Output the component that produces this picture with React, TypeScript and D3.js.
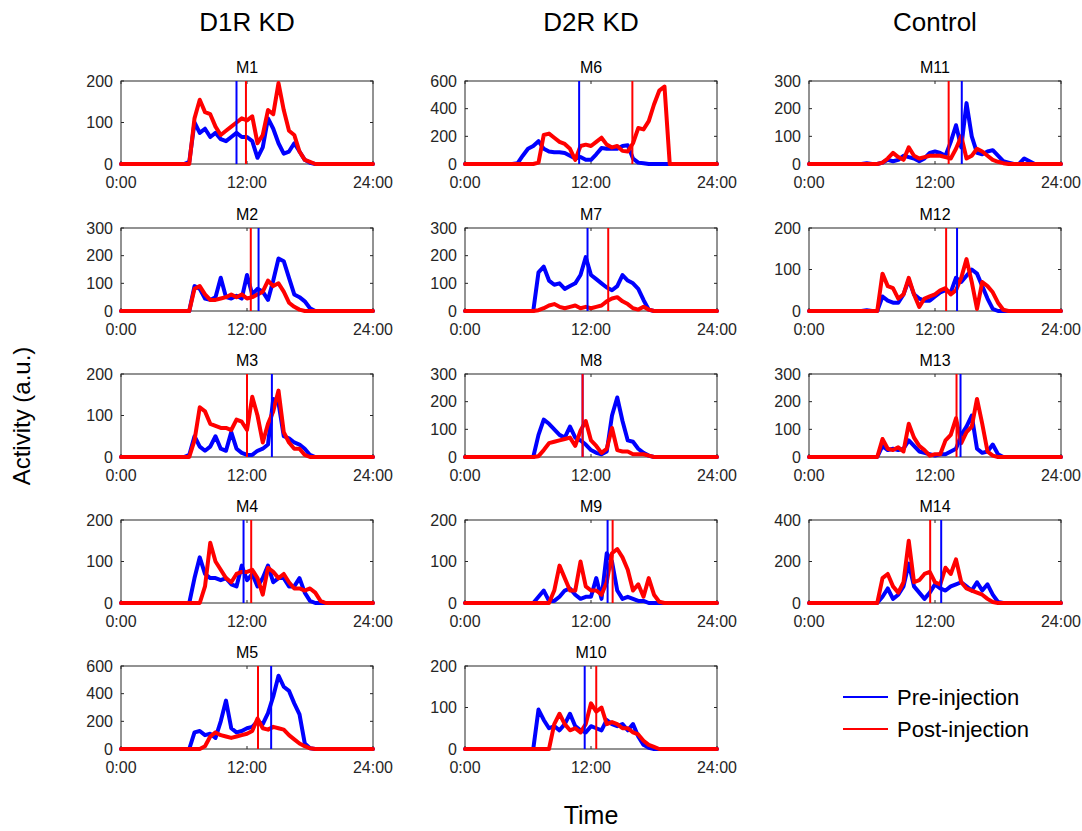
import { useEffect, useRef } from 'react';
import * as d3 from 'd3';

// Time grid, half-hour bins over the day
const HOURS = d3.range(0, 24.01, 0.5);
const X_TICKS = [0, 12, 24];
const X_TICK_LABELS = ['0:00', '12:00', '24:00'];

const GROUPS = ['D1R KD', 'D2R KD', 'Control'];
const MICE = ['M1', 'M2', 'M3', 'M4', 'M5', 'M6', 'M7', 'M8', 'M9', 'M10', 'M11', 'M12', 'M13', 'M14'];
const MOUSE_GROUP = [0, 0, 0, 0, 0, 1, 1, 1, 1, 1, 2, 2, 2, 2];
const MOUSE_ROW = [0, 1, 2, 3, 4, 0, 1, 2, 3, 4, 0, 1, 2, 3];
const Y_MAX = [200, 300, 200, 200, 600, 600, 300, 300, 200, 200, 300, 200, 300, 400];
const Y_STEP = [100, 100, 100, 100, 200, 200, 100, 100, 100, 100, 100, 100, 100, 200];

// activity centre of mass (hours)
const PRE_CENTER = [11.0, 13.1, 14.37, 11.67, 14.3, 10.87, 11.67, 11.2, 13.58, 11.4, 14.55, 14.1, 14.43, 12.59];
const POST_CENTER = [11.9, 12.36, 12.0, 12.4, 13.05, 15.94, 13.64, 11.2, 14.06, 12.5, 13.3, 13.06, 14.05, 11.54];

// each row of 8 = 4 hours
const m1Pre = [
  0, 0, 0, 0, 0, 0, 0, 0,
  0, 0, 0, 0, 0, 5, 100, 75,
  85, 65, 75, 60, 55, 65, 75, 65,
  65, 55, 15, 40, 110, 85, 50, 25,
  30, 50, 30, 10, 3, 0, 0, 0,
  0, 0, 0, 0, 0, 0, 0, 0,
  0];
const m1Post = [
  0, 0, 0, 0, 0, 0, 0, 0,
  0, 0, 0, 0, 0, 0, 110, 155,
  125, 120, 90, 70, 80, 90, 100, 110,
  105, 115, 50, 70, 130, 120, 195, 130,
  80, 70, 30, 10, 5, 0, 0, 0,
  0, 0, 0, 0, 0, 0, 0, 0,
  0];
const m2Pre = [
  0, 0, 0, 0, 0, 0, 0, 0,
  0, 0, 0, 0, 0, 0, 90, 80,
  45, 40, 50, 120, 50, 45, 55, 45,
  130, 60, 80, 70, 40, 110, 190, 180,
  120, 60, 50, 35, 10, 0, 0, 0,
  0, 0, 0, 0, 0, 0, 0, 0,
  0];
const m2Post = [
  0, 0, 0, 0, 0, 0, 0, 0,
  0, 0, 0, 0, 0, 0, 80, 90,
  60, 40, 40, 45, 50, 60, 50, 60,
  45, 50, 60, 70, 110, 90, 100, 70,
  30, 15, 5, 0, 0, 0, 0, 0,
  0, 0, 0, 0, 0, 0, 0, 0,
  0];
const m3Pre = [
  0, 0, 0, 0, 0, 0, 0, 0,
  0, 0, 0, 0, 0, 5, 50, 25,
  15, 25, 50, 20, 15, 60, 20, 10,
  5, 5, 15, 20, 30, 140, 130, 50,
  45, 35, 30, 20, 5, 0, 0, 0,
  0, 0, 0, 0, 0, 0, 0, 0,
  0];
const m3Post = [
  0, 0, 0, 0, 0, 0, 0, 0,
  0, 0, 0, 0, 0, 0, 40, 120,
  110, 80, 75, 70, 70, 65, 90, 85,
  65, 145, 100, 35, 80, 110, 160, 60,
  35, 20, 20, 5, 0, 0, 0, 0,
  0, 0, 0, 0, 0, 0, 0, 0,
  0];
const m4Pre = [
  0, 0, 0, 0, 0, 0, 0, 0,
  0, 0, 0, 0, 0, 0, 60, 110,
  70, 60, 60, 55, 60, 45, 40, 90,
  55, 70, 40, 60, 90, 50, 60, 60,
  40, 40, 60, 25, 5, 0, 0, 0,
  0, 0, 0, 0, 0, 0, 0, 0,
  0];
const m4Post = [
  0, 0, 0, 0, 0, 0, 0, 0,
  0, 0, 0, 0, 0, 0, 0, 0,
  40, 145, 100, 80, 60, 50, 70, 75,
  75, 80, 60, 20, 85, 75, 60, 70,
  50, 35, 35, 30, 35, 25, 5, 0,
  0, 0, 0, 0, 0, 0, 0, 0,
  0];
const m5Pre = [
  0, 0, 0, 0, 0, 0, 0, 0,
  0, 0, 0, 0, 0, 0, 120, 130,
  100, 110, 80, 200, 350, 150, 120, 130,
  150, 160, 200, 180, 260, 380, 530, 450,
  420, 330, 250, 40, 5, 0, 0, 0,
  0, 0, 0, 0, 0, 0, 0, 0,
  0];
const m5Post = [
  0, 0, 0, 0, 0, 0, 0, 0,
  0, 0, 0, 0, 0, 0, 0, 0,
  20, 90, 120, 100, 90, 80, 90, 100,
  110, 130, 220, 150, 140, 160, 150, 140,
  100, 70, 40, 20, 5, 0, 0, 0,
  0, 0, 0, 0, 0, 0, 0, 0,
  0];
const m6Pre = [
  0, 0, 0, 0, 0, 0, 0, 0,
  0, 0, 5, 60, 110, 130, 165, 110,
  90, 85, 85, 80, 60, 40, 50, 30,
  30, 70, 115, 110, 110, 110, 130, 135,
  40, 10, 5, 0, 0, 0, 0, 0,
  0, 0, 0, 0, 0, 0, 0, 0,
  0];
const m6Post = [
  0, 0, 0, 0, 0, 0, 0, 0,
  0, 0, 0, 0, 0, 0, 10, 210,
  220, 190, 160, 145, 110, 30, 130, 140,
  130, 160, 190, 140, 120, 130, 95, 90,
  150, 260, 250, 310, 430, 530, 560, 0,
  0, 0, 0, 0, 0, 0, 0, 0,
  0];
const m7Pre = [
  0, 0, 0, 0, 0, 0, 0, 0,
  0, 0, 0, 0, 0, 0, 140, 160,
  110, 95, 100, 80, 90, 100, 130, 195,
  130, 115, 100, 85, 75, 90, 130, 110,
  100, 80, 40, 5, 0, 0, 0, 0,
  0, 0, 0, 0, 0, 0, 0, 0,
  0];
const m7Post = [
  0, 0, 0, 0, 0, 0, 0, 0,
  0, 0, 0, 0, 0, 0, 3, 10,
  20, 25, 15, 10, 15, 20, 10, 15,
  10, 15, 20, 35, 45, 50, 35, 25,
  10, 5, 15, 5, 0, 0, 0, 0,
  0, 0, 0, 0, 0, 0, 0, 0,
  0];
const m8Pre = [
  0, 0, 0, 0, 0, 0, 0, 0,
  0, 0, 0, 0, 0, 0, 80, 135,
  120, 100, 80, 70, 110, 70, 60, 45,
  25, 15, 10, 20, 150, 215, 130, 60,
  55, 30, 15, 5, 0, 0, 0, 0,
  0, 0, 0, 0, 0, 0, 0, 0,
  0];
const m8Post = [
  0, 0, 0, 0, 0, 0, 0, 0,
  0, 0, 0, 0, 0, 0, 3, 25,
  50, 55, 60, 65, 70, 40, 95, 130,
  60, 40, 15, 30, 105, 25, 20, 20,
  10, 10, 10, 5, 0, 0, 0, 0,
  0, 0, 0, 0, 0, 0, 0, 0,
  0];
const m9Pre = [
  0, 0, 0, 0, 0, 0, 0, 0,
  0, 0, 0, 0, 0, 0, 15, 30,
  5, 5, 15, 30, 35, 20, 10, 15,
  15, 60, 10, 120, 100, 30, 10, 15,
  10, 5, 5, 0, 0, 0, 0, 0,
  0, 0, 0, 0, 0, 0, 0, 0,
  0];
const m9Post = [
  0, 0, 0, 0, 0, 0, 0, 0,
  0, 0, 0, 0, 0, 0, 0, 0,
  0, 30, 90, 60, 30, 30, 100, 40,
  30, 30, 20, 50, 120, 130, 110, 80,
  30, 45, 15, 60, 20, 3, 0, 0,
  0, 0, 0, 0, 0, 0, 0, 0,
  0];
const m10Pre = [
  0, 0, 0, 0, 0, 0, 0, 0,
  0, 0, 0, 0, 0, 0, 95, 70,
  50, 55, 45, 60, 85, 55, 45, 40,
  55, 50, 45, 70, 60, 55, 60, 45,
  60, 30, 10, 3, 0, 0, 0, 0,
  0, 0, 0, 0, 0, 0, 0, 0,
  0];
const m10Post = [
  0, 0, 0, 0, 0, 0, 0, 0,
  0, 0, 0, 0, 0, 0, 0, 0,
  0, 60, 85, 60, 45, 50, 40, 60,
  110, 90, 100, 60, 65, 60, 50, 50,
  40, 35, 20, 10, 5, 0, 0, 0,
  0, 0, 0, 0, 0, 0, 0, 0,
  0];
const m11Pre = [
  0, 0, 0, 0, 0, 0, 0, 0,
  0, 0, 0, 3, 0, 0, 5, 15,
  10, 15, 30, 25, 20, 10, 20, 40,
  45, 40, 30, 80, 140, 60, 220, 100,
  40, 35, 45, 50, 30, 10, 5, 0,
  0, 20, 10, 0, 0, 0, 0, 0,
  0];
const m11Post = [
  0, 0, 0, 0, 0, 0, 0, 0,
  0, 0, 0, 0, 0, 0, 5, 20,
  40, 25, 15, 60, 30, 20, 25, 30,
  30, 30, 25, 20, 55, 100, 20, 30,
  55, 45, 30, 15, 8, 3, 0, 0,
  0, 0, 0, 0, 0, 0, 0, 0,
  0];
const m12Pre = [
  0, 0, 0, 0, 0, 0, 0, 0,
  0, 0, 0, 2, 0, 0, 35, 25,
  20, 20, 40, 75, 40, 30, 25, 25,
  35, 45, 50, 45, 80, 70, 85, 100,
  90, 60, 30, 5, 0, 0, 0, 0,
  0, 0, 0, 0, 0, 0, 0, 0,
  0];
const m12Post = [
  0, 0, 0, 0, 0, 0, 0, 0,
  0, 0, 0, 0, 0, 0, 90, 60,
  55, 30, 40, 80, 40, 10, 30, 35,
  40, 50, 55, 40, 50, 80, 125, 70,
  5, 70, 60, 45, 20, 3, 0, 0,
  0, 0, 0, 0, 0, 0, 0, 0,
  0];
const m13Pre = [
  0, 0, 0, 0, 0, 0, 0, 0,
  0, 0, 0, 0, 0, 0, 40, 25,
  30, 25, 30, 60, 40, 20, 15, 10,
  5, 10, 10, 20, 30, 80, 110, 150,
  30, 15, 20, 45, 10, 0, 0, 0,
  0, 0, 0, 0, 0, 0, 0, 0,
  0];
const m13Post = [
  0, 0, 0, 0, 0, 0, 0, 0,
  0, 0, 0, 0, 0, 0, 65, 30,
  25, 35, 20, 120, 70, 40, 25, 5,
  10, 10, 60, 80, 140, 50, 90, 110,
  210, 120, 20, 5, 0, 0, 0, 0,
  0, 0, 0, 0, 0, 0, 0, 0,
  0];
const m14Pre = [
  0, 0, 0, 0, 0, 0, 0, 0,
  0, 0, 0, 0, 0, 0, 30, 70,
  20, 40, 80, 190, 80, 50, 20, 50,
  90, 70, 60, 80, 90, 100, 80, 60,
  100, 60, 90, 40, 5, 0, 0, 0,
  0, 0, 0, 0, 0, 0, 0, 0,
  0];
const m14Post = [
  0, 0, 0, 0, 0, 0, 0, 0,
  0, 0, 0, 0, 0, 0, 120, 140,
  80, 50, 100, 300, 100, 110, 140, 150,
  100, 90, 170, 140, 210, 100, 70, 60,
  50, 40, 20, 5, 0, 0, 0, 0,
  0, 0, 0, 0, 0, 0, 0, 0,
  0];

const PRE = [m1Pre, m2Pre, m3Pre, m4Pre, m5Pre, m6Pre, m7Pre, m8Pre, m9Pre, m10Pre, m11Pre, m12Pre, m13Pre, m14Pre];
const POST = [m1Post, m2Post, m3Post, m4Post, m5Post, m6Post, m7Post, m8Post, m9Post, m10Post, m11Post, m12Post, m13Post, m14Post];

const LEGEND = ['Pre-injection', 'Post-injection'];
const BLUE = '#0000ff';
const RED = '#ff0000';
const AXIS = '#262626';
const FONT = '"Liberation Sans", Arial, Helvetica, sans-serif';

export default function App() {
  const svgRef = useRef<SVGSVGElement>(null);

  useEffect(() => {
    if (!svgRef.current) return;
    const svg = d3.select(svgRef.current);
    svg.selectAll('*').remove();

    const colLeft = [121, 465, 809];
    const rowTop = [81, 228, 374, 520, 666];
    const w = 252;
    const h = 83;
    const tick = 3;

    const x = d3.scaleLinear().domain([0, 24]).range([0, w]);

    // Column headers
    GROUPS.forEach((g, i) => {
      svg.append('text')
        .attr('x', colLeft[i] + w / 2)
        .attr('y', 31)
        .attr('text-anchor', 'middle')
        .style('font-size', '26px')
        .attr('fill', '#000')
        .text(g);
    });

    MICE.forEach((name, m) => {
      const g = svg.append('g')
        .attr('transform', `translate(${colLeft[MOUSE_GROUP[m]]},${rowTop[MOUSE_ROW[m]]})`);
      const y = d3.scaleLinear().domain([0, Y_MAX[m]]).range([h, 0]);
      const yTicks = d3.range(0, Y_MAX[m] + 1, Y_STEP[m]);

      // box
      g.append('rect')
        .attr('width', w).attr('height', h)
        .attr('fill', 'none').attr('stroke', AXIS).attr('stroke-width', 1);

      X_TICKS.forEach((t, i) => {
        g.append('line')
          .attr('x1', x(t)).attr('x2', x(t)).attr('y1', h).attr('y2', h - tick)
          .attr('stroke', AXIS);
        g.append('line')
          .attr('x1', x(t)).attr('x2', x(t)).attr('y1', 0).attr('y2', tick)
          .attr('stroke', AXIS);
        g.append('text')
          .attr('x', x(t)).attr('y', h + 24)
          .attr('text-anchor', 'middle')
          .style('font-size', '16px')
          .attr('fill', AXIS)
          .text(X_TICK_LABELS[i]);
      });

      yTicks.forEach(t => {
        g.append('line')
          .attr('x1', 0).attr('x2', tick).attr('y1', y(t)).attr('y2', y(t))
          .attr('stroke', AXIS);
        g.append('line')
          .attr('x1', w).attr('x2', w - tick).attr('y1', y(t)).attr('y2', y(t))
          .attr('stroke', AXIS);
        g.append('text')
          .attr('x', -8).attr('y', y(t))
          .attr('dy', '0.36em')
          .attr('text-anchor', 'end')
          .style('font-size', '16px')
          .attr('fill', AXIS)
          .text(t);
      });

      g.append('text')
        .attr('x', w / 2).attr('y', -8)
        .attr('text-anchor', 'middle')
        .style('font-size', '16px')
        .attr('fill', '#000')
        .text(name);

      const line = d3.line<number>()
        .x((_, i) => x(HOURS[i]))
        .y(d => y(d));

      g.append('path')
        .attr('d', line(PRE[m]))
        .attr('fill', 'none').attr('stroke', BLUE)
        .attr('stroke-width', 4).attr('stroke-linejoin', 'round').attr('stroke-linecap', 'round');
      g.append('path')
        .attr('d', line(POST[m]))
        .attr('fill', 'none').attr('stroke', RED)
        .attr('stroke-width', 4).attr('stroke-linejoin', 'round').attr('stroke-linecap', 'round');

      [[PRE_CENTER[m], BLUE], [POST_CENTER[m], RED]].forEach(([c, col]) => {
        g.append('line')
          .attr('x1', x(c as number)).attr('x2', x(c as number))
          .attr('y1', 0).attr('y2', h)
          .attr('stroke', col as string).attr('stroke-width', 2);
      });
    });

    // Legend
    const leg = svg.append('g').attr('transform', 'translate(843,697)');
    LEGEND.forEach((label, i) => {
      leg.append('line')
        .attr('x1', 0).attr('x2', 45).attr('y1', i * 32).attr('y2', i * 32)
        .attr('stroke', i === 0 ? BLUE : RED).attr('stroke-width', 2);
      leg.append('text')
        .attr('x', 54).attr('y', i * 32)
        .attr('dy', '0.35em')
        .style('font-size', '22px')
        .attr('fill', '#000')
        .text(label);
    });

    // Axis titles
    svg.append('text')
      .attr('transform', 'translate(30,416) rotate(-90)')
      .attr('text-anchor', 'middle')
      .style('font-size', '24px')
      .attr('fill', '#000')
      .text('Activity (a.u.)');

    svg.append('text')
      .attr('x', 591).attr('y', 824)
      .attr('text-anchor', 'middle')
      .style('font-size', '25px')
      .attr('fill', '#000')
      .text('Time');
  }, []);

  return (
    <svg
      ref={svgRef}
      width={1082}
      height={831}
      style={{ position: 'absolute', left: 0, top: 0, background: '#fff', fontFamily: FONT }}
    />
  );
}
